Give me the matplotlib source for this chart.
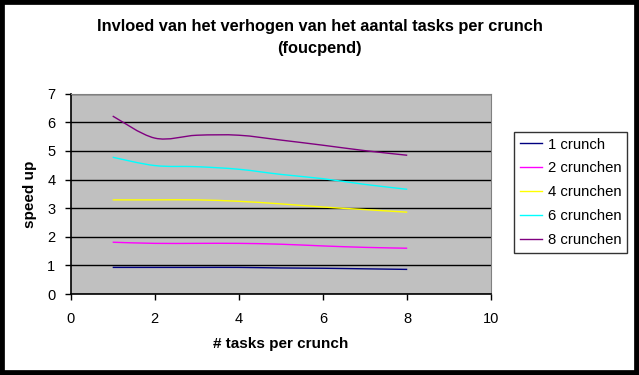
import numpy as np
import matplotlib
matplotlib.use("Agg")
import matplotlib.pyplot as plt
from matplotlib.path import Path
from matplotlib.patches import PathPatch, Rectangle
from matplotlib.lines import Line2D

plt.rcParams['font.family'] = ['Liberation Sans', 'DejaVu Sans']

tasks = [1, 2, 3, 4, 5, 6, 7, 8]
crunch_1 = [0.93, 0.93, 0.93, 0.93, 0.91, 0.90, 0.88, 0.86]
crunch_2 = [1.81, 1.77, 1.77, 1.77, 1.74, 1.68, 1.63, 1.60]
crunch_4 = [3.29, 3.29, 3.29, 3.24, 3.15, 3.04, 2.95, 2.86]
crunch_6 = [4.78, 4.49, 4.45, 4.36, 4.18, 4.03, 3.83, 3.66]
crunch_8 = [6.22, 5.45, 5.55, 5.55, 5.38, 5.20, 5.01, 4.85]

labels = ['1 crunch', '2 crunchen', '4 crunchen', '6 crunchen', '8 crunchen']
colors = ['#000080', '#FF00FF', '#FFFF00', '#00FFFF', '#800080']
series = [crunch_1, crunch_2, crunch_4, crunch_6, crunch_8]


def smooth_path(x, y):
    # Excel-like smoothed line: bezier segments through the data points
    p = np.column_stack([x, y]).astype(float)
    pp = np.vstack([p[0], p, p[-1]])
    verts = [p[0]]
    codes = [Path.MOVETO]
    for i in range(len(p) - 1):
        c1 = pp[i + 1] + (pp[i + 2] - pp[i]) / 6
        c2 = pp[i + 2] - (pp[i + 3] - pp[i + 1]) / 6
        verts += [c1, c2, pp[i + 2]]
        codes += [Path.CURVE4] * 3
    return Path(verts, codes)


fig = plt.figure(figsize=(6.39, 3.75), dpi=100)
fig.patch.set_facecolor('white')
fig.patches.append(Rectangle((0, 0), 1, 1, transform=fig.transFigure,
                             fill=False, edgecolor='black', linewidth=7))

ax = fig.add_axes([0.1105, 0.216, 0.6585, 0.534])
ax.set_facecolor('#C0C0C0')

for ys, c in zip(series, colors):
    ax.add_patch(PathPatch(smooth_path(tasks, ys), fill=False,
                           edgecolor=c, linewidth=1.0))

ax.set_xlim(0, 10)
ax.set_ylim(0, 7)
ax.set_xticks(range(0, 11, 2))
ax.set_yticks(range(0, 8))
ax.yaxis.grid(True, color='black', linewidth=1.0)
ax.set_axisbelow(True)
ax.tick_params(direction='out', length=4, width=1, colors='black',
               labelsize=10.5)
ax.tick_params(axis='y', pad=7)
ax.tick_params(axis='x', pad=9)
for s in ['top', 'right']:
    ax.spines[s].set_color('#808080')
for s in ['left', 'bottom']:
    ax.spines[s].set_color('black')
    ax.spines[s].set_linewidth(1.2)

ax.set_xlabel('# tasks per crunch', fontsize=11, fontweight='bold', labelpad=8)
ax.set_ylabel('speed up', fontsize=11, fontweight='bold', labelpad=7)

fig.text(0.5, 0.9, 'Invloed van het verhogen van het aantal tasks per crunch\n(foucpend)',
         ha='center', va='center', fontsize=11.8, fontweight='bold', linespacing=1.5)

handles = [Line2D([], [], color=c, linewidth=1.0) for c in colors]
leg = fig.legend(handles, labels, loc='upper left', bbox_to_anchor=(514 / 639, 1 - 132 / 375),
                 borderaxespad=0, fontsize=10.7, frameon=True, fancybox=False,
                 handlelength=1.5, handletextpad=0.4, labelspacing=0.66, borderpad=0.38)
leg.get_frame().set_edgecolor('black')
leg.get_frame().set_linewidth(1.0)

fig.savefig('out.png', dpi=100, facecolor=fig.get_facecolor())
